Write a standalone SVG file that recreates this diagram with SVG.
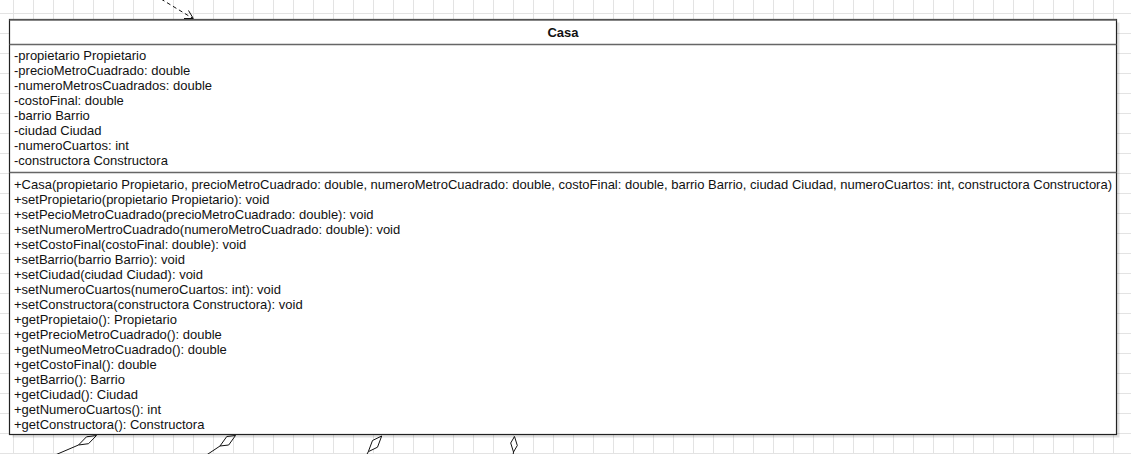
<svg xmlns="http://www.w3.org/2000/svg" width="1131" height="454" viewBox="0 0 1131 454">
  <style>
    .t { font-family: "Liberation Sans", Arial, Helvetica, sans-serif; font-size: 13px; fill: #111; }
    .h { font-weight: bold; text-anchor: middle; }
    .box { fill: #ffffff; stroke: #222; stroke-width: 1.2; }
    .div { stroke: #666; stroke-width: 1.6; fill: none; }
    .conn { stroke: #111; stroke-width: 1; fill: none; }
    .dia { fill: #ffffff; stroke: #111; stroke-width: 1; stroke-linejoin: miter; }
  </style>
  <defs>
    <pattern id="grid" x="13" y="13" width="20" height="20" patternUnits="userSpaceOnUse">
      <path d="M0 0.5 H20 M0.5 0 V20" stroke="#e3e3e3" stroke-width="1" fill="none"/>
    </pattern>
  </defs>
  <rect x="0" y="0" width="1131" height="454" fill="#ffffff"/>
  <rect x="0" y="0" width="1131" height="454" fill="url(#grid)"/>

  <g id="connectors">
    <path class="conn" d="M161 -1 L193 18.5" stroke-dasharray="4 3"/>
    <path class="conn" d="M184 18.5 L193.3 18.5 L188.5 10.5"/>
    <path class="conn" d="M78.5 445 L54 455.5"/>
    <polygon class="dia" points="96.5,435.5 86.5,436.8 78.5,445 88.5,443.7"/>
    <path class="conn" d="M220 446 L205 456"/>
    <polygon class="dia" points="235.5,435.5 226.8,436.5 220,446 228.7,445"/>
    <path class="conn" d="M368.3 451.7 L366.3 455.5"/>
    <polygon class="dia" points="381.7,436 372.5,440.5 368.3,451.7 377.5,447.2"/>
    <path class="conn" d="M513.5 452 L513 455.5"/>
    <polygon class="dia" points="514.5,436.5 510.7,443 513.5,452 517.3,445.5"/>
  </g>

  <g id="casa">
    <rect x="12.5" y="22.5" width="1107" height="415" fill="#000" opacity="0.12"/>
    <rect class="box" x="9.5" y="19.5" width="1107" height="415"/>
    <line class="div" x1="9.5" y1="20" x2="1116.5" y2="20"/>
    <line class="div" x1="9.5" y1="44.5" x2="1116.5" y2="44.5"/>
    <line class="div" x1="9.5" y1="172.5" x2="1116.5" y2="172.5"/>
    <text class="t h" x="563" y="37">Casa</text>
    <text class="t" x="14" y="59.5">-propietario Propietario</text>
    <text class="t" x="14" y="74.5">-precioMetroCuadrado: double</text>
    <text class="t" x="14" y="89.5">-numeroMetrosCuadrados: double</text>
    <text class="t" x="14" y="104.5">-costoFinal: double</text>
    <text class="t" x="14" y="119.5">-barrio Barrio</text>
    <text class="t" x="14" y="134.5">-ciudad Ciudad</text>
    <text class="t" x="14" y="149.5">-numeroCuartos: int</text>
    <text class="t" x="14" y="164.5">-constructora Constructora</text>
    <text class="t" x="14" y="188.5">+Casa(propietario Propietario, precioMetroCuadrado: double, numeroMetroCuadrado: double, costoFinal: double, barrio Barrio, ciudad Ciudad, numeroCuartos: int, constructora Constructora)</text>
    <text class="t" x="14" y="203.5">+setPropietario(propietario Propietario): void</text>
    <text class="t" x="14" y="218.5">+setPecioMetroCuadrado(precioMetroCuadrado: double): void</text>
    <text class="t" x="14" y="233.5">+setNumeroMertroCuadrado(numeroMetroCuadrado: double): void</text>
    <text class="t" x="14" y="248.5">+setCostoFinal(costoFinal: double): void</text>
    <text class="t" x="14" y="263.5">+setBarrio(barrio Barrio): void</text>
    <text class="t" x="14" y="278.5">+setCiudad(ciudad Ciudad): void</text>
    <text class="t" x="14" y="293.5">+setNumeroCuartos(numeroCuartos: int): void</text>
    <text class="t" x="14" y="308.5">+setConstructora(constructora Constructora): void</text>
    <text class="t" x="14" y="323.5">+getPropietaio(): Propietario</text>
    <text class="t" x="14" y="338.5">+getPrecioMetroCuadrado(): double</text>
    <text class="t" x="14" y="353.5">+getNumeoMetroCuadrado(): double</text>
    <text class="t" x="14" y="368.5">+getCostoFinal(): double</text>
    <text class="t" x="14" y="383.5">+getBarrio(): Barrio</text>
    <text class="t" x="14" y="398.5">+getCiudad(): Ciudad</text>
    <text class="t" x="14" y="413.5">+getNumeroCuartos(): int</text>
    <text class="t" x="14" y="428.5">+getConstructora(): Constructora</text>
  </g>
</svg>
